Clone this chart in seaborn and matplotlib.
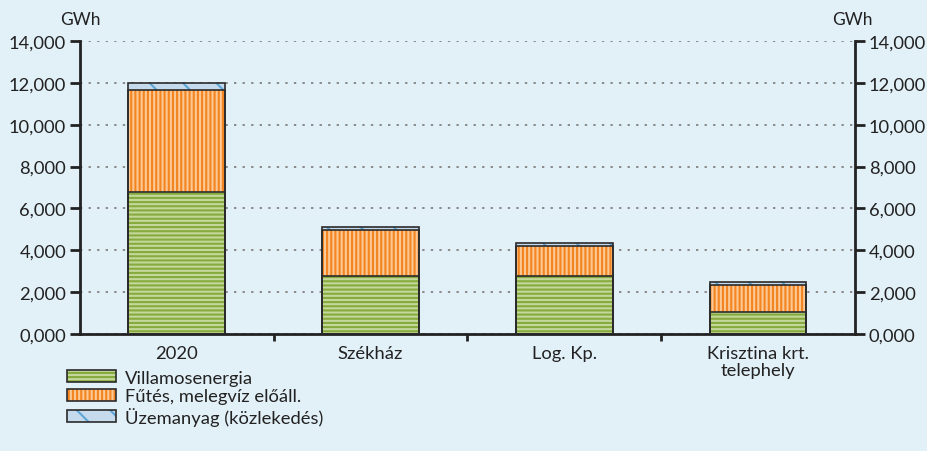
import matplotlib
matplotlib.use("Agg")
import matplotlib.pyplot as plt
import seaborn as sns
import pandas as pd
from matplotlib.patches import Patch
from matplotlib.legend_handler import HandlerTuple
from matplotlib.ticker import FuncFormatter, FixedLocator

# =============================================================================
# DATA (GWh)
# =============================================================================
categories = ["2020", "Székház", "Log. Kp.", "Krisztina krt.\ntelephely"]
villamos = [6.80, 2.78, 2.78, 1.05]
futes = [4.85, 2.17, 1.42, 1.29]
uzemanyag = [0.35, 0.17, 0.17, 0.16]
series_names = ["Villamosenergia", "Fűtés, melegvíz előáll.", "Üzemanyag (közlekedés)"]
yticks = [0, 2, 4, 6, 8, 10, 12, 14]

BG = "#E2F0F8"
OUTLINE = "#2b2b2b"
TXT = "#222222"
FS = 13.2
# (fill, stripe, hatch)
styles = [
    ("#C3D89A", "#86AA3E", "----"),
    ("#FCC994", "#F38420", "||||"),
    ("#C6DAEE", "#5DA6D6", "\\"),
]

sns.set_style("white")
plt.rcParams["font.family"] = ["Lato", "DejaVu Sans"]
plt.rcParams["hatch.linewidth"] = 1.5

# cumulative tops for overlap-stacking
lvl1 = villamos
lvl2 = [a + b for a, b in zip(villamos, futes)]
lvl3 = [a + b + c for a, b, c in zip(villamos, futes, uzemanyag)]
df = pd.DataFrame({"cat": categories, "l1": lvl1, "l2": lvl2, "l3": lvl3})

fig = plt.figure(figsize=(9.28, 4.52), dpi=100)
fig.patch.set_facecolor(BG)
ax = fig.add_axes([0.0862, 0.259, 0.835, 0.648])
ax.set_facecolor(BG)

for col, (fc, sc, h) in zip(["l3", "l2", "l1"], styles[::-1]):
    sns.barplot(data=df, x="cat", y=col, order=categories, color=fc, saturation=1,
                width=0.5, errorbar=None, hatch=h, edgecolor=sc, linewidth=0,
                ax=ax, zorder=3)
    sns.barplot(data=df, x="cat", y=col, order=categories, color=OUTLINE, saturation=1,
                width=0.5, errorbar=None, fill=False, linewidth=1.2, ax=ax, zorder=4)

ax.set_xlim(-0.5, 3.5)
ax.set_ylim(0, 14)
fmt = FuncFormatter(lambda v, p: f"{v:.3f}".replace(".", ","))
ax.yaxis.set_major_locator(FixedLocator(yticks))
ax.yaxis.set_major_formatter(fmt)
ax.set_xlabel("")
ax.set_ylabel("")
ax.grid(axis="y", color="#8a8a8a", linestyle=(0, (1.2, 3.2)), linewidth=1.4, zorder=0)
ax.set_axisbelow(True)

# x ticks: labels at centres, tick marks at boundaries
ax.set_xticks(range(len(categories)))
ax.set_xticklabels(categories, fontsize=FS, color=TXT, linespacing=1.1)
ax.tick_params(axis="x", length=0, pad=8)
ax.set_xticks([0.5, 1.5, 2.5], minor=True)
ax.tick_params(axis="x", which="minor", bottom=True, length=5, width=2, color=TXT,
               direction="out")
ax.tick_params(axis="y", left=True, length=7, width=2, color=TXT, labelsize=FS,
               labelcolor=TXT, pad=3)

for s in ["top", "right"]:
    ax.spines[s].set_visible(False)
for s in ["left", "bottom"]:
    ax.spines[s].set_linewidth(2)
    ax.spines[s].set_color(TXT)

ax2 = ax.twinx()
ax2.set_ylim(ax.get_ylim())
ax2.yaxis.set_major_locator(FixedLocator(yticks))
ax2.yaxis.set_major_formatter(fmt)
ax2.tick_params(axis="y", right=True, length=7, width=2, color=TXT, labelsize=FS,
                labelcolor=TXT, pad=3)
for s in ["top", "left", "bottom"]:
    ax2.spines[s].set_visible(False)
ax2.spines["right"].set_linewidth(2)
ax2.spines["right"].set_color(TXT)

fig.text(0.0862, 0.955, "GWh", fontsize=12.5, color=TXT, ha="center", va="center")
fig.text(0.918, 0.955, "GWh", fontsize=12.5, color=TXT, ha="center", va="center")

# legend
handles = []
for fc, sc, h in styles:
    handles.append((Patch(facecolor=fc, edgecolor=sc, hatch=h, linewidth=0),
                    Patch(facecolor="none", edgecolor=OUTLINE, linewidth=1.2)))
fig.legend(handles, series_names, handler_map={tuple: HandlerTuple(ndivide=1)},
           loc="upper left", bbox_to_anchor=(0.072, 0.18), frameon=False,
           fontsize=FS, handlelength=2.7, handleheight=0.6, handletextpad=0.45,
           labelspacing=0.14, borderpad=0, borderaxespad=0, labelcolor=TXT)

fig.savefig("out.png", dpi=100, facecolor=BG)
